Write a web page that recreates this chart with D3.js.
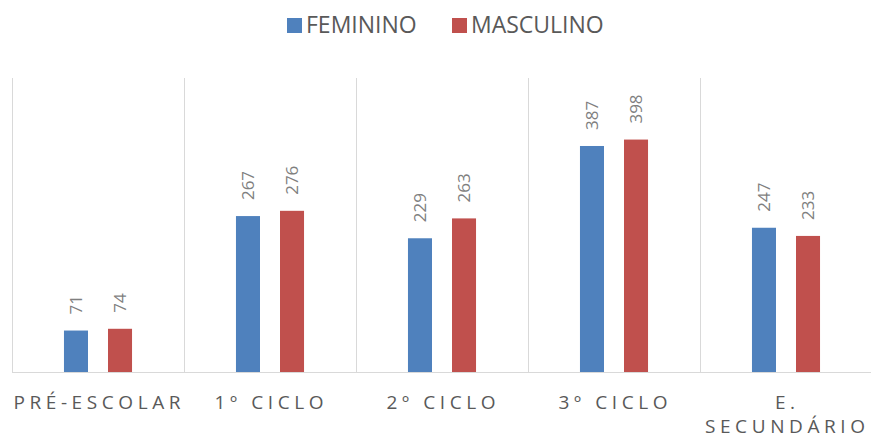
<!DOCTYPE html>
<html><head><meta charset="utf-8">
<script src="https://cdn.jsdelivr.net/npm/d3@7"></script>
<style>body{margin:0;background:#fff}svg{display:block}</style>
</head><body><svg id="c" width="871" height="439"></svg>
<script>
const categories = ["PRÉ-ESCOLAR", "1º CICLO", "2º CICLO", "3º CICLO", "E. SECUNDÁRIO"];
const seriesNames = ["FEMININO", "MASCULINO"];
const feminino = [71, 267, 229, 387, 247];
const masculino = [74, 276, 263, 398, 233];
const colors = ["#4F81BD", "#C0504D"];

const svg = d3.select("#c");
const mLeft = 12, mRight = 872, mTop = 80, mBottom = 372;
const x = d3.scaleBand().domain(categories).range([mLeft, mRight]).padding(0);
const y = d3.scaleLinear().domain([0, 500]).range([mBottom, mTop]);
const x1 = d3.scaleBand().domain(seriesNames).range([0, x.bandwidth()]).paddingInner(0.4545).paddingOuter(1.18);

// separators
const seps = categories.map((c) => x(c));
svg.selectAll("line.sep").data(seps).enter().append("line")
  .attr("x1", d => Math.round(d) + 0.5).attr("x2", d => Math.round(d) + 0.5)
  .attr("y1", mTop - 2).attr("y2", mBottom)
  .attr("stroke", "#d9d9d9").attr("stroke-width", 1);
svg.append("line").attr("x1", mLeft).attr("x2", mRight).attr("y1", mBottom + 0.5).attr("y2", mBottom + 0.5)
  .attr("stroke", "#d9d9d9").attr("stroke-width", 1);

const data = categories.map((c, i) => ({cat: c, vals: [feminino[i], masculino[i]]}));
const g = svg.selectAll("g.cat").data(data).enter().append("g").attr("transform", d => `translate(${x(d.cat)},0)`);
g.selectAll("rect").data(d => d.vals.map((v, j) => ({v, s: seriesNames[j], j}))).enter().append("rect")
  .attr("x", d => x1(d.s)).attr("width", x1.bandwidth())
  .attr("y", d => y(d.v)).attr("height", d => y(0) - y(d.v))
  .attr("fill", d => colors[d.j]);
g.selectAll("text.val").data(d => d.vals.map((v, j) => ({v, s: seriesNames[j], j}))).enter().append("text")
  .attr("transform", d => `translate(${x1(d.s) + x1.bandwidth() / 2 + 6},${y(d.v) - 16}) rotate(-90)`)
  .attr("font-family", "Open Sans, sans-serif").attr("font-size", 17).attr("fill", "#7f7f7f")
  .text(d => d.v);

// category labels
const ls = 4.6;
g.append("text").attr("text-anchor", "middle").attr("font-family", "Open Sans, sans-serif")
  .attr("font-size", 19).attr("fill", "#595959").attr("letter-spacing", ls + "px")
  .each(function(d) {
    const t = d3.select(this);
    const parts = d.cat === "E. SECUNDÁRIO" ? ["E.", "SECUNDÁRIO"] : [d.cat];
    parts.forEach((p, k) => {
      t.append("tspan").attr("x", x.bandwidth() / 2 + ls / 2 - 1).attr("y", 409 + k * 24).text(p);
    });
  });

// legend
const legend = [{n: seriesNames[0], x: 287}, {n: seriesNames[1], x: 452}];
legend.forEach((l, i) => {
  svg.append("rect").attr("x", l.x).attr("y", 18).attr("width", 15).attr("height", 15).attr("fill", colors[i]);
  svg.append("text").attr("x", l.x + 19).attr("y", 33).attr("font-family", "Open Sans, sans-serif")
    .attr("font-size", 23).attr("fill", "#595959").text(l.n);
});
</script></body></html>
